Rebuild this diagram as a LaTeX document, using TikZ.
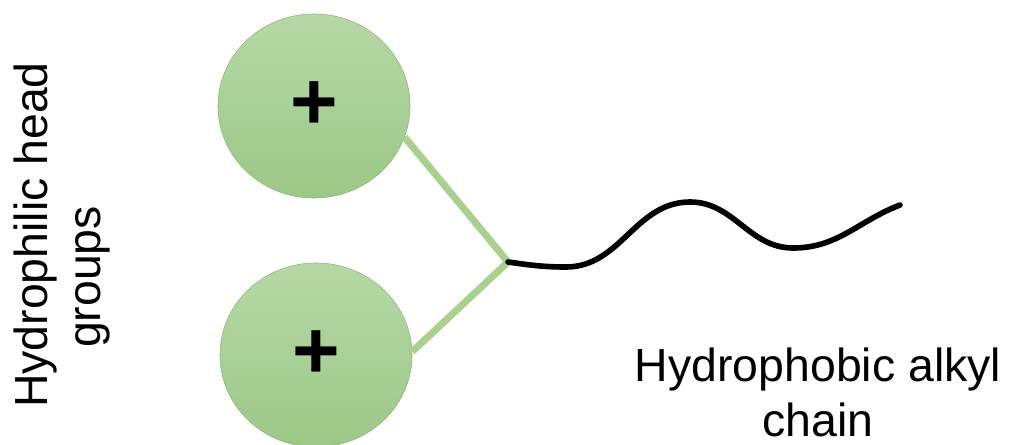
\documentclass[tikz,border=0pt]{standalone}
\usepackage{fontspec}
\setmainfont{Liberation Sans}
\usetikzlibrary{shapes.geometric}
\definecolor{headtop}{RGB}{182,216,166}
\definecolor{headbot}{RGB}{156,200,135}
\definecolor{headrim}{RGB}{138,186,112}
\definecolor{armgreen}{RGB}{169,209,142}

\begin{document}
\begin{tikzpicture}[x=0.025cm, y=-0.025cm,
  head/.style = {ellipse, draw=headrim, thin, top color=headtop, bottom color=headbot, minimum width=4.8cm, minimum height=4.6cm, inner sep=0pt, font=\fontsize{58}{58}\selectfont\bfseries},
  arm/.style = {armgreen, line width=5pt},
  tailline/.style = {black, line width=4pt, line cap=round},
  lbl/.style = {inner sep=0pt, font=\fontsize{33}{39}\selectfont}]
\useasboundingbox (0,0) rectangle (1016,445);

\node[head] (h1) at (314,106) {+};
\node[head] (h2) at (316,355) {+};
\coordinate (j) at (508,262);

\draw[arm] (h1.-19) -- (j) -- (h2.2);
\draw[tailline] (j) to[out=-8, in=180] (566,267) to[out=0, in=180] (690,202)
  to[out=0, in=180] (793,248) to[out=0, in=201] (900,205);

\node[lbl, rotate=90, anchor=base] (philic) at (47,235) {Hydrophilic head};
\node[lbl, rotate=90, anchor=base] (groups) at (100,277) {groups};
\node[lbl, align=center] (phobic) at (818,392) {Hydrophobic alkyl\\chain};

\end{tikzpicture}
\end{document}
